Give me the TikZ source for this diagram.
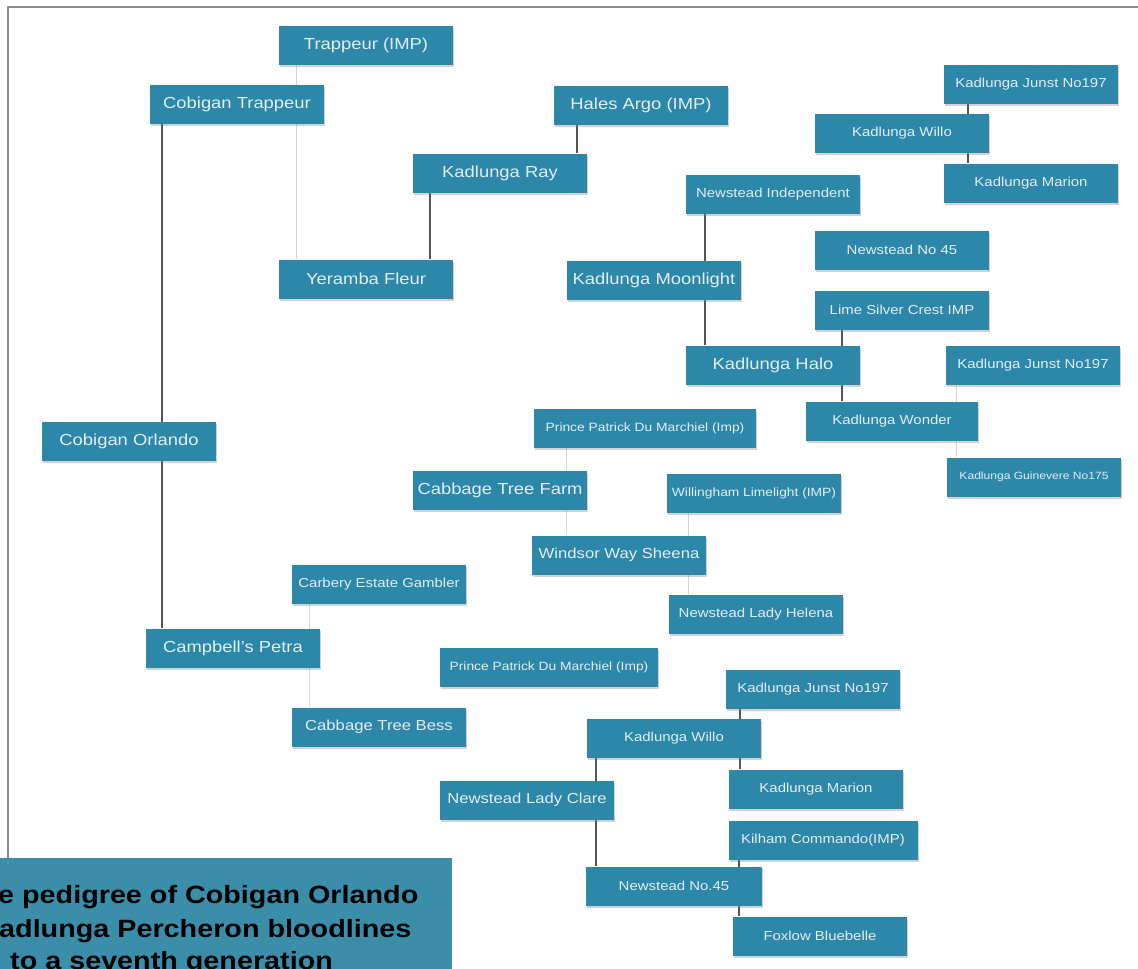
\documentclass[tikz,border=0pt]{standalone}
\usepackage{fontspec}
\setmainfont{Liberation Sans}[FakeStretch=1.15]
\usetikzlibrary{shadows,backgrounds}

\definecolor{horseteal}{RGB}{44,135,168}
\definecolor{horsetext}{RGB}{226,238,243}
\definecolor{captionteal}{RGB}{58,142,170}
\definecolor{sireline}{RGB}{85,85,85}
\definecolor{damline}{RGB}{212,212,212}
\definecolor{framegray}{RGB}{140,140,140}

\tikzset{
	horse/.style={fill=horseteal, text=horsetext, minimum width=174pt, minimum height=39pt,
		inner sep=2pt, font=\fontsize{13}{15}\selectfont,
		drop shadow={opacity=.35, shadow xshift=1pt, shadow yshift=-2pt}},
	big/.style={font=\fontsize{16}{18}\selectfont},
	mid/.style={font=\fontsize{14.5}{17}\selectfont},
	tiny/.style={font=\fontsize{12}{14}\selectfont},
	sire/.style={draw=sireline, line width=1.8pt},
	dam/.style={draw=damline, line width=1pt},
	caption/.style={anchor=base west, text=black, inner sep=0pt,
		font=\fontsize{25}{30}\selectfont\bfseries},
}

\begin{document}
\begin{tikzpicture}[x=1pt,y=-1pt]
	\useasboundingbox (0,0) rectangle (1138,969);
	\clip (0,0) rectangle (1138,969);
	% screenshot frame
	\draw[framegray, line width=2pt] (8,858) -- (8,7) -- (1140,7);

	% horses
	\node[horse,big] (trapimp) at (366,45) {Trappeur (IMP)};
	\node[horse,big] (cobtrap) at (237,104) {Cobigan Trappeur};
	\node[horse,big] (halesargo) at (641,105) {Hales Argo (IMP)};
	\node[horse,big] (kray) at (500,173) {Kadlunga Ray};
	\node[horse] (junsta) at (1031,84) {Kadlunga Junst No197};
	\node[horse] (willoa) at (902,133) {Kadlunga Willo};
	\node[horse] (mariona) at (1031,183) {Kadlunga Marion};
	\node[horse] (newind) at (773,194) {Newstead Independent};
	\node[horse] (nofortya) at (902,250) {Newstead No 45};
	\node[horse,big] (yeramba) at (366,279) {Yeramba Fleur};
	\node[horse,big] (moonlight) at (654,280) {Kadlunga Moonlight};
	\node[horse] (limesilver) at (902,310) {Lime Silver Crest IMP};
	\node[horse,big] (halo) at (773,365) {Kadlunga Halo};
	\node[horse] (junstb) at (1033,365) {Kadlunga Junst No197};
	\node[horse,tiny,minimum width=222pt] (princea) at (645,428) {Prince Patrick Du Marchiel (Imp)};
	\node[horse,minimum width=172pt] (wonder) at (892,421) {Kadlunga Wonder};
	\node[horse,big] (orlando) at (129,441) {Cobigan Orlando};
	\node[horse,big] (cabfarm) at (500,490) {Cabbage Tree Farm};
	\node[horse,tiny] (willing) at (754,493) {Willingham Limelight (IMP)};
	\node[horse,font=\fontsize{10.5}{12}\selectfont] (guinevere) at (1034,477) {Kadlunga Guinevere No175};
	\node[horse,mid] (sheena) at (619,555) {Windsor Way Sheena};
	\node[horse] (carbery) at (379,584) {Carbery Estate Gambler};
	\node[horse] (helena) at (756,614) {Newstead Lady Helena};
	\node[horse,big] (petra) at (233,648) {Campbell's Petra};
	\node[horse,tiny,minimum width=218pt] (princeb) at (549,667) {Prince Patrick Du Marchiel (Imp)};
	\node[horse] (junstc) at (813,689) {Kadlunga Junst No197};
	\node[horse,mid] (bess) at (379,727) {Cabbage Tree Bess};
	\node[horse] (willob) at (674,738) {Kadlunga Willo};
	\node[horse,mid] (clare) at (527,800) {Newstead Lady Clare};
	\node[horse] (marionb) at (816,789) {Kadlunga Marion};
	\node[horse,minimum width=189pt] (kilham) at (823,840) {Kilham Commando(IMP)};
	\node[horse,minimum width=176pt] (nofortyb) at (674,886) {Newstead No.45};
	\node[horse] (foxlow) at (820,936) {Foxlow Bluebelle};

	% parent lines, behind the boxes
	\begin{scope}[on background layer]
		\fill[white] (0,0) rectangle (1138,969);
		\draw[sire] ([xshift=12pt]cobtrap.south west) -- ([xshift=12pt]cobtrap.south west |- petra.north);
		\draw[dam] ([xshift=18pt]trapimp.south west) -- ([xshift=18pt]trapimp.south west |- yeramba.north);
		\draw[sire] ([xshift=23pt]halesargo.south west) -- ([xshift=23pt]halesargo.south west |- kray.north);
		\draw[sire] ([xshift=17pt]kray.south west) -- ([xshift=17pt]kray.south west |- yeramba.north);
		\draw[sire] ([xshift=24pt]junsta.south west) -- ([xshift=24pt]junsta.south west |- mariona.north);
		\draw[sire] ([xshift=19pt]newind.south west) -- ([xshift=19pt]newind.south west |- halo.north);
		\draw[sire] ([xshift=27pt]limesilver.south west) -- ([xshift=27pt]limesilver.south west |- wonder.north);
		\draw[dam] ([xshift=11pt]junstb.south west) -- ([xshift=11pt]junstb.south west |- guinevere.north);
		\draw[dam] ([xshift=33pt]princea.south west) -- ([xshift=33pt]princea.south west |- sheena.north);
		\draw[dam] ([xshift=22pt]willing.south west) -- ([xshift=22pt]willing.south west |- helena.north);
		\draw[dam] ([xshift=18pt]carbery.south west) -- ([xshift=18pt]carbery.south west |- bess.north);
		\draw[sire] ([xshift=14pt]junstc.south west) -- ([xshift=14pt]junstc.south west |- marionb.north);
		\draw[sire] ([xshift=9pt]willob.south west) -- ([xshift=9pt]willob.south west |- nofortyb.north);
		\draw[sire] ([xshift=11pt]kilham.south west) -- ([xshift=11pt]kilham.south west |- foxlow.north);
	\end{scope}

	% caption
	\fill[captionteal] (0,858) rectangle (452,975);
	\node[caption] (capa) at (-2,903) {e pedigree of Cobigan Orlando};
	\node[caption] (capb) at (-1,937) {adlunga Percheron bloodlines};
	\node[caption] (capc) at (10,969) {to a seventh generation};
\end{tikzpicture}
\end{document}
